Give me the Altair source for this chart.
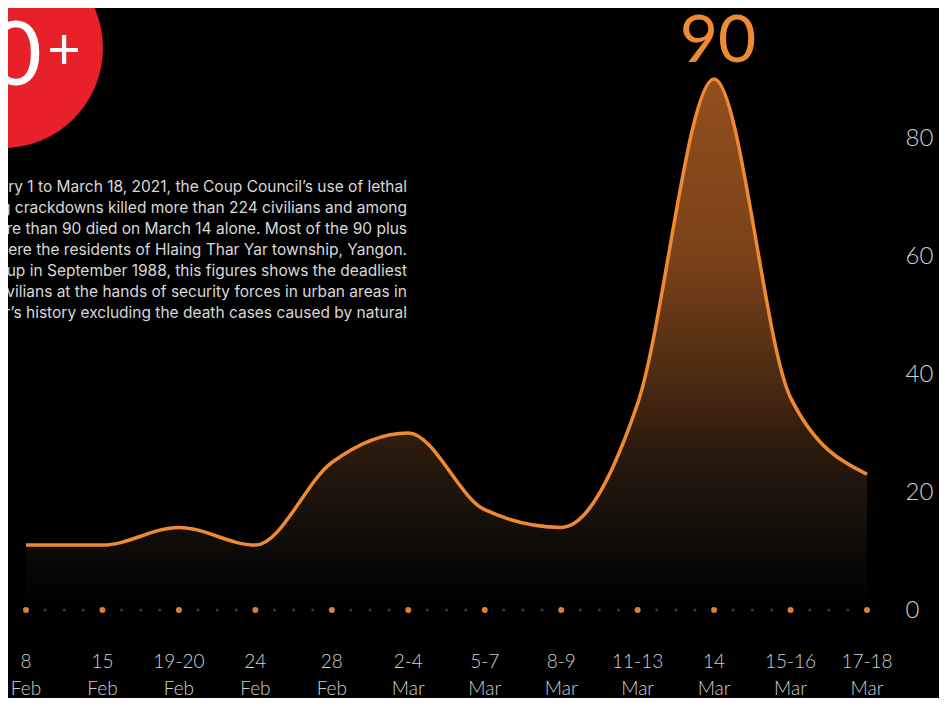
import altair as alt
import pandas as pd

# ---- data ----
days = ["8", "15", "19-20", "24", "28", "2-4", "5-7", "8-9", "11-13", "14", "15-16", "17-18"]
months = ["Feb", "Feb", "Feb", "Feb", "Feb", "Mar", "Mar", "Mar", "Mar", "Mar", "Mar", "Mar"]
deaths = [11, 11, 14, 11, 25, 30, 17, 14, 35, 90, 36, 23]
y_ticks = [0, 20, 40, 60, 80]
peak_label = "90"
badge_label = "90"
paragraph = [
    "From February 1 to March 18, 2021, the Coup Council\u2019s use of lethal",
    "force during crackdowns killed more than 224 civilians and among",
    "them, more than 90 died on March 14 alone. Most of the 90 plus",
    "victims were the residents of Hlaing Thar Yar township, Yangon.",
    "Since the coup in September 1988, this figures shows the deadliest",
    "killing of civilians at the hands of security forces in urban areas in",
    "Myanmar\u2019s history excluding the death cases caused by natural",
]

df = pd.DataFrame({"i": list(range(len(days))), "day": days, "month": months, "v": deaths})
minor = pd.DataFrame({"i": [i + f for i in range(len(days) - 1) for f in (0.25, 0.5, 0.75)]})
minor["v"] = 0
base = df.assign(z=0)
peak = df[df["v"] == max(deaths)].assign(label=peak_label)

xs = alt.Scale(domain=[0, len(days) - 1], nice=False, zero=False)
ys = alt.Scale(domain=[0, 100], nice=False)
X = alt.X("i:Q", scale=xs, axis=None)

FONT = "Lato"

area = alt.Chart(df).mark_area(
    interpolate="monotone",
    color=alt.Gradient(
        gradient="linear",
        x1=0, y1=0, x2=0, y2=1,
        stops=[
            alt.GradientStop(offset=0, color="#914f1e"),
            alt.GradientStop(offset=0.34, color="#7a4118"),
            alt.GradientStop(offset=0.57, color="#4a2a12"),
            alt.GradientStop(offset=0.7, color="#2a1a0d"),
            alt.GradientStop(offset=0.83, color="#16100a"),
            alt.GradientStop(offset=0.9, color="#0a0806"),
            alt.GradientStop(offset=1, color="#000000"),
        ],
    ),
).encode(
    x=X,
    y=alt.Y("v:Q", scale=ys, axis=alt.Axis(
        orient="right", values=y_ticks, domain=False, ticks=False, grid=False,
        labelPadding=38, labelAlign="left", labelBaseline="middle",
        labelFont=FONT, labelFontSize=24, labelFontWeight=300, labelColor="#cfcfcf",
        title=None,
    )),
)

line = alt.Chart(df).mark_line(interpolate="monotone", color="#f08a32", strokeWidth=3.5).encode(
    x=X, y=alt.Y("v:Q", scale=ys)
)

minor_dots = alt.Chart(minor).mark_circle(color="#3a3a3a", size=9, opacity=1).encode(
    x=X, y=alt.Y("v:Q", scale=ys)
)
major_dots = alt.Chart(base).mark_circle(color="#d9803a", size=36, opacity=1).encode(
    x=X, y=alt.Y("z:Q", scale=ys)
)

peak_text = alt.Chart(peak).mark_text(
    font=FONT, fontSize=66, fontWeight=400, color="#f08a32", baseline="alphabetic", dy=-17, dx=4
).encode(x=X, y=alt.Y("v:Q", scale=ys), text="label:N")

day_text = alt.Chart(df).mark_text(
    font=FONT, fontSize=19, fontWeight=300, color="#d0d0d0", baseline="alphabetic"
).encode(x=X, y=alt.value(648), text="day:N")
month_text = alt.Chart(df).mark_text(
    font=FONT, fontSize=19, fontWeight=300, color="#d0d0d0", baseline="alphabetic"
).encode(x=X, y=alt.value(675), text="month:N")

badge = alt.Chart(df.head(1)).mark_circle(color="#e8202a", size=40000, opacity=1).encode(
    x=alt.value(-23), y=alt.value(28)
)
badge_num = alt.Chart(df.head(1)).mark_text(
    font=FONT, fontSize=90, fontWeight=400, color="#ffffff", align="right", baseline="alphabetic",
    text=badge_label,
).encode(x=alt.value(16), y=alt.value(65))
badge_plus = alt.Chart(df.head(1)).mark_text(
    font=FONT, fontSize=58, fontWeight=400, color="#ffffff", align="center", baseline="middle",
    text="+",
).encode(x=alt.value(38), y=alt.value(32))

para = alt.Chart(df.head(1)).mark_text(
    font="Inter", fontSize=15.5, color="#d8d8d8", align="right", baseline="alphabetic",
    lineHeight=21, text=paragraph,
).encode(x=alt.value(381), y=alt.value(172))

chart = alt.layer(
    area, line, minor_dots, major_dots, peak_text, day_text, month_text,
    badge, badge_num, badge_plus, para,
).properties(
    width=841, height=590,
    autosize=alt.AutoSizeParams(type="none"),
    padding={"left": 18, "top": 12, "right": 72, "bottom": 88},
    background="#000000",
).configure_view(stroke=None)

chart.save("out.html", embed_options={"renderer": "svg", "actions": False})
